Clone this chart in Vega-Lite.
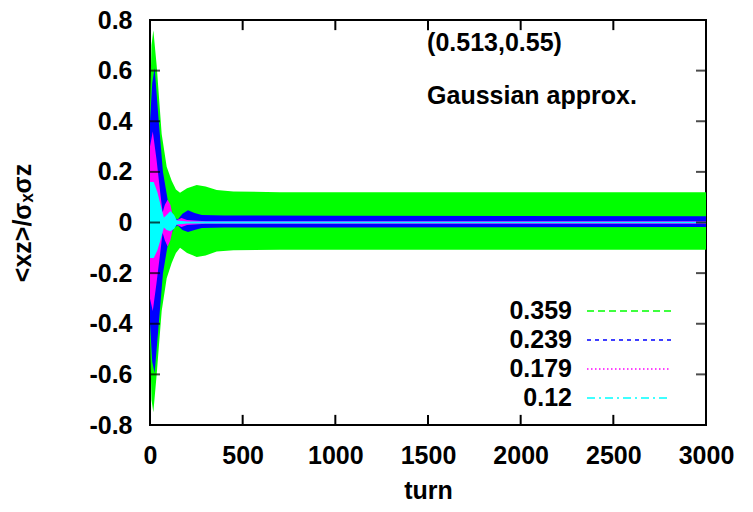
{
  "$schema": "https://vega.github.io/schema/vega-lite/v6.json",
  "width": 556,
  "height": 405,
  "autosize": "none",
  "padding": {"left": 150, "top": 20, "right": 47, "bottom": 87},
  "background": "white",
  "config": {
    "font": "Liberation Sans",
    "view": {"stroke": "black", "strokeWidth": 2},
    "axis": {
      "grid": false,
      "domain": false,
      "ticks": false,
      "labelColor": "black",
      "labelFont": "Liberation Sans",
      "labelFontWeight": "bold",
      "labelFontSize": 25,
      "titleColor": "black",
      "titleFont": "Liberation Sans",
      "titleFontWeight": "bold",
      "titleFontSize": 25
    }
  },
  "data": {
    "values": [
      {"series": "0.359", "turn": 0, "hi": 0.45, "lo": -0.45},
      {"series": "0.359", "turn": 8, "hi": 0.7, "lo": -0.7},
      {"series": "0.359", "turn": 18, "hi": 0.76, "lo": -0.75},
      {"series": "0.359", "turn": 36, "hi": 0.62, "lo": -0.6},
      {"series": "0.359", "turn": 63, "hi": 0.35, "lo": -0.35},
      {"series": "0.359", "turn": 90, "hi": 0.22, "lo": -0.22},
      {"series": "0.359", "turn": 117, "hi": 0.165, "lo": -0.16},
      {"series": "0.359", "turn": 140, "hi": 0.13, "lo": -0.12},
      {"series": "0.359", "turn": 162, "hi": 0.118, "lo": -0.1},
      {"series": "0.359", "turn": 200, "hi": 0.135, "lo": -0.12},
      {"series": "0.359", "turn": 252, "hi": 0.148, "lo": -0.136},
      {"series": "0.359", "turn": 300, "hi": 0.142, "lo": -0.13},
      {"series": "0.359", "turn": 360, "hi": 0.128, "lo": -0.115},
      {"series": "0.359", "turn": 450, "hi": 0.122, "lo": -0.11},
      {"series": "0.359", "turn": 700, "hi": 0.12, "lo": -0.108},
      {"series": "0.359", "turn": 1500, "hi": 0.12, "lo": -0.108},
      {"series": "0.359", "turn": 3000, "hi": 0.12, "lo": -0.108},
      {"series": "0.239", "turn": 0, "hi": 0.4, "lo": -0.4},
      {"series": "0.239", "turn": 12, "hi": 0.55, "lo": -0.55},
      {"series": "0.239", "turn": 25, "hi": 0.61, "lo": -0.595},
      {"series": "0.239", "turn": 45, "hi": 0.42, "lo": -0.42},
      {"series": "0.239", "turn": 70, "hi": 0.2, "lo": -0.2},
      {"series": "0.239", "turn": 100, "hi": 0.07, "lo": -0.07},
      {"series": "0.239", "turn": 130, "hi": 0.02, "lo": -0.02},
      {"series": "0.239", "turn": 150, "hi": 0.012, "lo": -0.012},
      {"series": "0.239", "turn": 175, "hi": 0.035, "lo": -0.03},
      {"series": "0.239", "turn": 205, "hi": 0.048, "lo": -0.038},
      {"series": "0.239", "turn": 240, "hi": 0.038, "lo": -0.03},
      {"series": "0.239", "turn": 280, "hi": 0.03, "lo": -0.022},
      {"series": "0.239", "turn": 400, "hi": 0.028, "lo": -0.02},
      {"series": "0.239", "turn": 1000, "hi": 0.027, "lo": -0.02},
      {"series": "0.239", "turn": 3000, "hi": 0.025, "lo": -0.018},
      {"series": "0.179", "turn": 0, "hi": 0.3, "lo": -0.3},
      {"series": "0.179", "turn": 15, "hi": 0.36, "lo": -0.35},
      {"series": "0.179", "turn": 35, "hi": 0.25, "lo": -0.24},
      {"series": "0.179", "turn": 55, "hi": 0.12, "lo": -0.12},
      {"series": "0.179", "turn": 68, "hi": 0.04, "lo": -0.04},
      {"series": "0.179", "turn": 80, "hi": 0.07, "lo": -0.07},
      {"series": "0.179", "turn": 95, "hi": 0.09, "lo": -0.095},
      {"series": "0.179", "turn": 110, "hi": 0.07, "lo": -0.07},
      {"series": "0.179", "turn": 125, "hi": 0.02, "lo": -0.02},
      {"series": "0.179", "turn": 140, "hi": 0.008, "lo": -0.008},
      {"series": "0.179", "turn": 170, "hi": 0.018, "lo": -0.018},
      {"series": "0.179", "turn": 200, "hi": 0.01, "lo": -0.01},
      {"series": "0.179", "turn": 300, "hi": 0.005, "lo": -0.005},
      {"series": "0.179", "turn": 3000, "hi": 0.005, "lo": -0.005},
      {"series": "0.12", "turn": 0, "hi": 0.16, "lo": -0.14},
      {"series": "0.12", "turn": 20, "hi": 0.16, "lo": -0.14},
      {"series": "0.12", "turn": 40, "hi": 0.12, "lo": -0.11},
      {"series": "0.12", "turn": 60, "hi": 0.06, "lo": -0.06},
      {"series": "0.12", "turn": 75, "hi": 0.02, "lo": -0.02},
      {"series": "0.12", "turn": 90, "hi": 0.03, "lo": -0.03},
      {"series": "0.12", "turn": 110, "hi": 0.045, "lo": -0.035},
      {"series": "0.12", "turn": 130, "hi": 0.03, "lo": -0.025},
      {"series": "0.12", "turn": 145, "hi": 0.008, "lo": -0.008},
      {"series": "0.12", "turn": 200, "hi": 0.004, "lo": -0.004},
      {"series": "0.12", "turn": 3000, "hi": 0.003, "lo": -0.003}
    ]
  },
  "layer": [
    {
      "mark": {"type": "area", "clip": true},
      "encoding": {
        "x": {
          "field": "turn", "type": "quantitative",
          "scale": {"domain": [0, 3000], "nice": false, "zero": false},
          "axis": {"orient": "bottom", "values": [0, 500, 1000, 1500, 2000, 2500, 3000], "format": "d", "labelPadding": 18, "title": "turn", "titlePadding": 10, "labelFlush": false}
        },
        "y": {
          "field": "hi", "type": "quantitative", "stack": null,
          "scale": {"domain": [-0.8, 0.8], "nice": false, "zero": false},
          "axis": {"orient": "left", "values": [-0.8, -0.6, -0.4, -0.2, 0, 0.2, 0.4, 0.6, 0.8], "format": "~g", "labelExpr": "replace(datum.label, '−', '-')", "labelPadding": 18, "title": "<xz>/σₓσz", "titlePadding": 53, "labelFlush": false}
        },
        "y2": {"field": "lo"},
        "color": {
          "field": "series", "type": "nominal",
          "scale": {"domain": ["0.359", "0.239", "0.179", "0.12"], "range": ["#00ff00", "#0000ff", "#ff00ff", "#00ffff"]},
          "legend": {
            "orient": "none", "legendX": 464, "legendY": 276, "title": null, "padding": 0,
            "symbolType": "M-3,0H3", "symbolSize": 784, "symbolStrokeWidth": 1.5,
            "labelAlign": "right", "labelOffset": -72, "labelFontSize": 25, "labelFont": "Liberation Sans",
            "labelFontWeight": "bold", "labelColor": "black", "rowPadding": 1,
            "encode": {"symbols": {"update": {"stroke": {"scale": "color", "field": "value"}, "fill": {"value": "transparent"}, "opacity": {"value": 1}}}}
          }
        }
      }
    },
    {
      "mark": {"type": "line", "strokeWidth": 0, "clip": true},
      "encoding": {
        "x": {"field": "turn", "type": "quantitative"},
        "y": {"field": "hi", "type": "quantitative"},
        "color": {
          "field": "series", "type": "nominal",
          "legend": {
            "orient": "none", "legendX": 464, "legendY": 276, "title": null, "padding": 0,
            "symbolType": "M-3,0H3", "symbolSize": 784, "symbolStrokeWidth": 1.5,
            "labelAlign": "right", "labelOffset": -72, "labelFontSize": 25, "labelFont": "Liberation Sans",
            "labelFontWeight": "bold", "labelColor": "black", "rowPadding": 1,
            "encode": {"symbols": {"update": {"stroke": {"scale": "color", "field": "value"}, "fill": {"value": "transparent"}, "opacity": {"value": 1}}}}
          }
        },
        "strokeDash": {
          "field": "series", "type": "nominal",
          "scale": {"domain": ["0.359", "0.239", "0.179", "0.12"], "range": [[7, 4], [4, 4], [1.5, 2.5], [8, 4, 2, 4]]},
          "legend": {
            "orient": "none", "legendX": 464, "legendY": 276, "title": null, "padding": 0,
            "symbolType": "M-3,0H3", "symbolSize": 784, "symbolStrokeWidth": 1.5,
            "labelAlign": "right", "labelOffset": -72, "labelFontSize": 25, "labelFont": "Liberation Sans",
            "labelFontWeight": "bold", "labelColor": "black", "rowPadding": 1,
            "encode": {"symbols": {"update": {"stroke": {"scale": "color", "field": "value"}, "fill": {"value": "transparent"}, "opacity": {"value": 1}}}}
          }
        }
      }
    },
    {
      "data": {"values": [{"t": 0}, {"t": 500}, {"t": 1000}, {"t": 1500}, {"t": 2000}, {"t": 2500}, {"t": 3000}]},
      "layer": [
        {
          "mark": {"type": "rule", "clip": true, "strokeWidth": 2, "color": "black"},
          "encoding": {"x": {"field": "t", "type": "quantitative"}, "y": {"datum": -0.8, "type": "quantitative"}, "y2": {"datum": -0.76}}
        },
        {
          "mark": {"type": "rule", "clip": true, "strokeWidth": 2, "color": "black"},
          "encoding": {"x": {"field": "t", "type": "quantitative"}, "y": {"datum": 0.8, "type": "quantitative"}, "y2": {"datum": 0.76}}
        },
        {
          "mark": {"type": "tick", "orient": "horizontal", "clip": true, "size": 20, "thickness": 2, "color": "black"},
          "encoding": {"x": {"field": "t", "type": "quantitative"}, "y": {"datum": -0.8, "type": "quantitative"}}
        },
        {
          "mark": {"type": "tick", "orient": "horizontal", "clip": true, "size": 20, "thickness": 2, "color": "black"},
          "encoding": {"x": {"field": "t", "type": "quantitative"}, "y": {"datum": 0.8, "type": "quantitative"}}
        }
      ]
    },
    {
      "data": {"values": [{"v": -0.8}, {"v": -0.6}, {"v": -0.4}, {"v": -0.2}, {"v": 0}, {"v": 0.2}, {"v": 0.4}, {"v": 0.6}, {"v": 0.8}]},
      "layer": [
        {
          "mark": {"type": "tick", "orient": "horizontal", "clip": true, "size": 20, "thickness": 2, "color": "black"},
          "encoding": {"y": {"field": "v", "type": "quantitative"}, "x": {"datum": 0, "type": "quantitative"}}
        },
        {
          "mark": {"type": "tick", "orient": "horizontal", "clip": true, "size": 20, "thickness": 2, "color": "black"},
          "encoding": {"y": {"field": "v", "type": "quantitative"}, "x": {"datum": 3000, "type": "quantitative"}}
        }
      ]
    },
    {
      "data": {"values": [{"label": "(0.513,0.55)"}]},
      "mark": {"type": "text", "align": "left", "baseline": "middle", "fontSize": 25, "fontWeight": "bold", "font": "Liberation Sans", "color": "black"},
      "encoding": {
        "text": {"field": "label"},
        "x": {"datum": 1495, "type": "quantitative"},
        "y": {"datum": 0.71, "type": "quantitative"}
      }
    },
    {
      "data": {"values": [{"label": "Gaussian approx."}]},
      "mark": {"type": "text", "align": "left", "baseline": "middle", "fontSize": 25, "fontWeight": "bold", "font": "Liberation Sans", "color": "black"},
      "encoding": {
        "text": {"field": "label"},
        "x": {"datum": 1495, "type": "quantitative"},
        "y": {"datum": 0.5, "type": "quantitative"}
      }
    }
  ]
}
